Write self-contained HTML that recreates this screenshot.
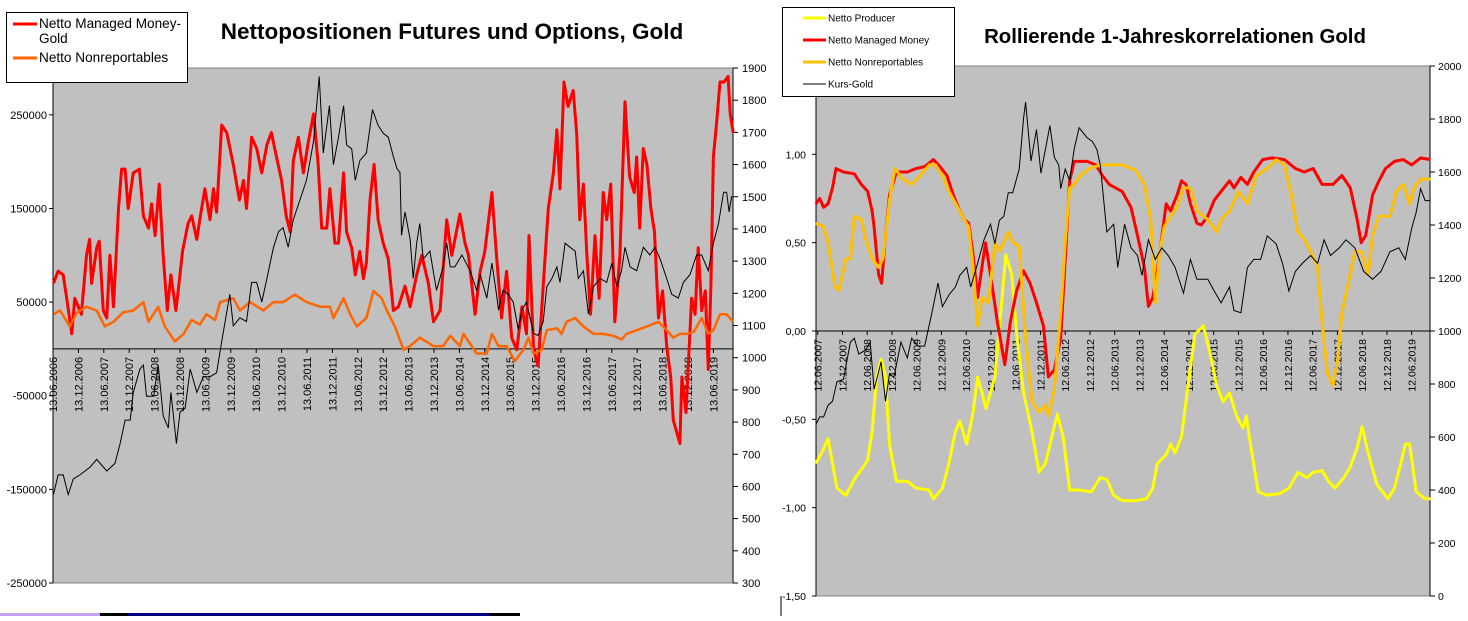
<!DOCTYPE html>
<html><head><meta charset="utf-8"><style>
body{margin:0;background:#fff;width:1468px;height:616px;overflow:hidden;font-family:"Liberation Sans",Arial,sans-serif}
svg text{font-family:"Liberation Sans",Arial,sans-serif}
</style></head><body>
<svg id="svg" width="1468" height="616" viewBox="0 0 1468 616" xmlns="http://www.w3.org/2000/svg">
<g id="left">
<rect x="53" y="68" width="680" height="515" fill="#c0c0c0" stroke="#808080" stroke-width="1"/>
<text x="452" y="39" font-size="22.5" font-weight="bold" text-anchor="middle">Nettopositionen Futures und Options, Gold</text>
</g>
<g id="right">
<rect x="816" y="66" width="614" height="530" fill="#c0c0c0" stroke="#808080" stroke-width="1"/>
<text x="1175" y="43" font-size="20.4" font-weight="bold" text-anchor="middle">Rollierende 1-Jahreskorrelationen Gold</text>
</g>
<g>
<rect x="0" y="613" width="100" height="3" fill="#c8a0f0"/>
<rect x="100" y="613" width="28" height="3" fill="#000"/>
<rect x="128" y="613" width="362" height="3" fill="#000080"/>
<rect x="490" y="613" width="30" height="3" fill="#000"/>
<line x1="781" y1="596" x2="781" y2="616" stroke="#000"/>
</g>
</svg>
<script>
// ---------- LEFT CHART DATA ----------
const leftTickLabelsL = ["250000","150000","50000","-50000","-150000","-250000"];
const leftTickValuesL = [250000,150000,50000,-50000,-150000,-250000];
const leftTickValuesR = [1900,1800,1700,1600,1500,1400,1300,1200,1100,1000,900,800,700,600,500,400,300];
const leftDateLabels = ["13.06.2006","13.12.2006","13.06.2007","13.12.2007","13.06.2008","13.12.2008","13.06.2009","13.12.2009","13.06.2010","13.12.2010","13.06.2011","13.12.2011","13.06.2012","13.12.2012","13.06.2013","13.12.2013","13.06.2014","13.12.2014","13.06.2015","13.12.2015","13.06.2016","13.12.2016","13.06.2017","13.12.2017","13.06.2018","13.12.2018","13.06.2019"];
const leftManagedMoney = [[2006.46,70],[2006.55,83],[2006.65,79],[2006.72,54],[2006.82,16],[2006.88,54],[2007.01,37],[2007.11,100],[2007.17,117],[2007.21,70],[2007.31,108],[2007.36,115],[2007.44,41],[2007.51,33],[2007.57,100],[2007.64,45],[2007.74,150],[2007.80,192],[2007.87,192],[2007.93,150],[2008.03,188],[2008.15,192],[2008.23,142],[2008.33,129],[2008.39,155],[2008.46,121],[2008.54,176],[2008.62,100],[2008.70,41],[2008.77,79],[2008.87,41],[2008.95,79],[2009.00,104],[2009.11,134],[2009.18,142],[2009.28,117],[2009.34,138],[2009.44,171],[2009.54,138],[2009.61,171],[2009.67,146],[2009.77,239],[2009.87,231],[2010.00,197],[2010.12,159],[2010.20,180],[2010.26,150],[2010.36,226],[2010.46,214],[2010.56,188],[2010.66,218],[2010.75,231],[2010.85,205],[2010.95,180],[2011.04,142],[2011.12,125],[2011.18,201],[2011.28,226],[2011.38,188],[2011.48,222],[2011.58,251],[2011.67,197],[2011.74,129],[2011.84,129],[2011.90,171],[2012.00,113],[2012.07,113],[2012.17,188],[2012.23,125],[2012.33,108],[2012.40,79],[2012.49,104],[2012.56,75],[2012.62,92],[2012.69,159],[2012.77,197],[2012.85,138],[2012.95,113],[2013.05,96],[2013.15,41],[2013.25,45],[2013.38,67],[2013.48,45],[2013.61,79],[2013.71,100],[2013.84,70],[2013.94,29],[2014.07,41],[2014.20,138],[2014.30,100],[2014.46,144],[2014.56,113],[2014.63,100],[2014.76,37],[2014.86,83],[2014.95,104],[2015.09,167],[2015.18,100],[2015.28,33],[2015.38,83],[2015.48,12],[2015.58,-1],[2015.68,45],[2015.77,16],[2015.82,121],[2015.91,-1],[2016.00,-18],[2016.10,67],[2016.20,150],[2016.30,188],[2016.37,234],[2016.43,171],[2016.51,285],[2016.59,259],[2016.69,276],[2016.76,230],[2016.82,138],[2016.89,176],[2016.96,100],[2017.03,37],[2017.12,121],[2017.20,54],[2017.28,167],[2017.35,138],[2017.43,176],[2017.51,29],[2017.61,100],[2017.71,264],[2017.80,184],[2017.89,167],[2017.94,205],[2018.00,129],[2018.07,214],[2018.14,197],[2018.22,150],[2018.29,125],[2018.37,33],[2018.45,62],[2018.53,3],[2018.61,-30],[2018.66,-76],[2018.79,-101],[2018.83,-30],[2018.91,-68],[2019.02,54],[2019.09,37],[2019.15,108],[2019.22,41],[2019.29,62],[2019.35,-22],[2019.40,67],[2019.45,205],[2019.51,239],[2019.58,285],[2019.66,285],[2019.74,291],[2019.78,251],[2019.84,231]];
const leftNonreportables = [[2006.46,37],[2006.59,41],[2006.78,24],[2006.92,39],[2007.11,45],[2007.31,41],[2007.47,24],[2007.64,29],[2007.83,39],[2008.03,41],[2008.23,50],[2008.33,29],[2008.52,45],[2008.65,24],[2008.85,8],[2009.02,16],[2009.18,31],[2009.34,26],[2009.47,37],[2009.64,31],[2009.74,50],[2010.00,54],[2010.13,41],[2010.33,50],[2010.59,41],[2010.79,50],[2010.98,50],[2011.21,58],[2011.44,50],[2011.71,45],[2011.90,45],[2011.97,33],[2012.17,54],[2012.30,37],[2012.43,24],[2012.62,33],[2012.76,62],[2012.92,54],[2013.02,41],[2013.18,24],[2013.35,-1],[2013.48,3],[2013.67,12],[2013.94,3],[2014.13,3],[2014.27,14],[2014.46,3],[2014.53,16],[2014.79,-5],[2014.99,-5],[2015.09,16],[2015.22,3],[2015.38,3],[2015.54,-13],[2015.71,-1],[2015.81,12],[2015.91,-5],[2016.07,-1],[2016.17,20],[2016.37,22],[2016.46,16],[2016.56,29],[2016.73,33],[2016.89,24],[2017.09,16],[2017.28,16],[2017.48,14],[2017.64,10],[2017.74,16],[2017.94,20],[2018.14,24],[2018.37,29],[2018.53,20],[2018.66,12],[2018.79,16],[2018.92,16],[2019.06,18],[2019.22,33],[2019.35,16],[2019.45,20],[2019.58,37],[2019.71,37],[2019.84,29]];
const leftGoldPrice = [[2006.46,575],[2006.55,636],[2006.65,636],[2006.75,575],[2006.85,623],[2006.98,636],[2007.18,660],[2007.31,684],[2007.51,648],[2007.67,672],[2007.77,733],[2007.87,806],[2007.97,806],[2008.03,892],[2008.16,965],[2008.23,977],[2008.29,880],[2008.43,880],[2008.52,977],[2008.62,819],[2008.72,782],[2008.77,892],[2008.88,733],[2008.95,831],[2009.05,843],[2009.15,965],[2009.28,892],[2009.41,941],[2009.54,941],[2009.67,953],[2009.77,1050],[2009.93,1197],[2010.00,1099],[2010.13,1124],[2010.26,1112],[2010.36,1234],[2010.46,1234],[2010.56,1173],[2010.66,1246],[2010.79,1343],[2010.89,1392],[2010.98,1404],[2011.08,1343],[2011.18,1429],[2011.31,1490],[2011.44,1551],[2011.58,1673],[2011.69,1874],[2011.77,1636],[2011.89,1783],[2011.97,1600],[2012.07,1685],[2012.17,1783],[2012.23,1661],[2012.33,1649],[2012.40,1551],[2012.49,1612],[2012.62,1636],[2012.74,1771],[2012.85,1722],[2012.95,1697],[2013.05,1685],[2013.15,1624],[2013.22,1588],[2013.28,1575],[2013.31,1380],[2013.38,1453],[2013.48,1368],[2013.54,1246],[2013.61,1356],[2013.67,1417],[2013.74,1307],[2013.87,1331],[2014.00,1209],[2014.13,1282],[2014.20,1356],[2014.27,1282],[2014.36,1282],[2014.50,1319],[2014.66,1270],[2014.79,1209],[2014.86,1258],[2014.99,1185],[2015.09,1294],[2015.18,1197],[2015.22,1148],[2015.31,1209],[2015.41,1197],[2015.51,1173],[2015.61,1087],[2015.68,1148],[2015.77,1173],[2015.91,1075],[2016.00,1069],[2016.10,1112],[2016.17,1221],[2016.27,1246],[2016.37,1282],[2016.43,1234],[2016.53,1356],[2016.63,1343],[2016.73,1331],[2016.79,1246],[2016.89,1270],[2016.99,1136],[2017.09,1221],[2017.22,1246],[2017.35,1234],[2017.45,1294],[2017.55,1221],[2017.64,1270],[2017.71,1343],[2017.81,1282],[2017.94,1270],[2018.07,1343],[2018.20,1319],[2018.30,1343],[2018.40,1307],[2018.53,1246],[2018.63,1197],[2018.76,1185],[2018.86,1234],[2018.99,1258],[2019.12,1319],[2019.22,1319],[2019.35,1270],[2019.45,1356],[2019.55,1417],[2019.65,1514],[2019.71,1514],[2019.76,1453],[2019.81,1502]];

// ---------- RIGHT CHART DATA ----------
const rightTickLabelsL = ["1,00","0,50","0,00","-0,50","-1,00","-1,50"];
const rightTickValuesL = [1,0.5,0,-0.5,-1,-1.5];
const rightTickValuesR = [2000,1800,1600,1400,1200,1000,800,600,400,200,0];
const rightDateLabels = ["12.06.2007","12.12.2007","12.06.2008","12.12.2008","12.06.2009","12.12.2009","12.06.2010","12.12.2010","12.06.2011","12.12.2011","12.06.2012","12.12.2012","12.06.2013","12.12.2013","12.06.2014","12.12.2014","12.06.2015","12.12.2015","12.06.2016","12.12.2016","12.06.2017","12.12.2017","12.06.2018","12.12.2018","12.06.2019"];
const corrProducer = [[2007.41,-.75],[2007.53,-.69],[2007.66,-.61],[2007.84,-.89],[2008.02,-.93],[2008.19,-.84],[2008.37,-.77],[2008.46,-.73],[2008.55,-.57],[2008.64,-.26],[2008.73,-.16],[2008.82,-.26],[2008.90,-.64],[2009.04,-.85],[2009.26,-.85],[2009.44,-.89],[2009.70,-.90],[2009.79,-.95],[2009.97,-.89],[2010.10,-.75],[2010.23,-.57],[2010.32,-.51],[2010.46,-.64],[2010.59,-.46],[2010.68,-.26],[2010.77,-.35],[2010.85,-.44],[2011.03,-.26],[2011.16,.14],[2011.25,.43],[2011.37,.32],[2011.47,-.02],[2011.61,-.35],[2011.78,-.57],[2011.92,-.80],[2012.05,-.75],[2012.18,-.60],[2012.29,-.47],[2012.41,-.60],[2012.54,-.90],[2012.72,-.90],[2012.98,-.91],[2013.16,-.83],[2013.29,-.84],[2013.43,-.93],[2013.60,-.96],[2013.87,-.96],[2014.09,-.95],[2014.22,-.89],[2014.31,-.75],[2014.49,-.70],[2014.58,-.64],[2014.67,-.69],[2014.80,-.60],[2014.93,-.31],[2015.07,-.02],[2015.24,.03],[2015.38,-.13],[2015.51,-.31],[2015.64,-.40],[2015.77,-.35],[2015.91,-.48],[2016.04,-.55],[2016.11,-.48],[2016.17,-.60],[2016.35,-.91],[2016.53,-.93],[2016.79,-.92],[2016.97,-.89],[2017.15,-.80],[2017.33,-.83],[2017.46,-.80],[2017.64,-.79],[2017.77,-.85],[2017.90,-.89],[2018.08,-.83],[2018.21,-.77],[2018.35,-.66],[2018.45,-.54],[2018.57,-.69],[2018.75,-.87],[2018.97,-.95],[2019.10,-.89],[2019.23,-.75],[2019.32,-.64],[2019.41,-.64],[2019.54,-.91],[2019.72,-.95],[2019.83,-.95]];
const corrManagedMoney = [[2007.41,.72],[2007.49,.75],[2007.57,.70],[2007.66,.72],[2007.75,.81],[2007.82,.92],[2007.97,.90],[2008.19,.89],[2008.33,.83],[2008.46,.79],[2008.55,.68],[2008.59,.59],[2008.68,.32],[2008.74,.27],[2008.82,.54],[2008.90,.77],[2009.04,.90],[2009.26,.90],[2009.44,.92],[2009.61,.93],[2009.79,.97],[2009.92,.93],[2010.06,.88],[2010.19,.77],[2010.32,.68],[2010.41,.63],[2010.50,.61],[2010.59,.43],[2010.68,.19],[2010.84,.50],[2010.94,.32],[2011.08,.05],[2011.23,-.19],[2011.34,.05],[2011.47,.23],[2011.61,.34],[2011.74,.27],[2011.87,.16],[2012.01,.03],[2012.11,-.26],[2012.23,-.22],[2012.36,-.04],[2012.54,.85],[2012.63,.96],[2012.89,.96],[2013.07,.94],[2013.20,.88],[2013.34,.83],[2013.60,.79],[2013.78,.70],[2013.91,.54],[2014.05,.36],[2014.13,.14],[2014.22,.19],[2014.31,.34],[2014.49,.72],[2014.58,.68],[2014.71,.77],[2014.80,.85],[2014.89,.83],[2014.98,.72],[2015.11,.61],[2015.20,.60],[2015.33,.65],[2015.46,.74],[2015.60,.79],[2015.77,.85],[2015.86,.81],[2016.00,.87],[2016.13,.83],[2016.26,.90],[2016.44,.97],[2016.62,.98],[2016.88,.97],[2017.10,.92],[2017.28,.90],[2017.46,.92],[2017.64,.83],[2017.86,.83],[2018.04,.88],[2018.21,.81],[2018.35,.63],[2018.43,.50],[2018.52,.54],[2018.66,.77],[2018.79,.85],[2018.92,.92],[2019.10,.96],[2019.28,.97],[2019.45,.94],[2019.63,.98],[2019.83,.97]];
const corrNonreportables = [[2007.41,.61],[2007.57,.59],[2007.66,.50],[2007.80,.25],[2007.88,.23],[2008.02,.41],[2008.11,.41],[2008.19,.65],[2008.33,.63],[2008.42,.52],[2008.55,.41],[2008.68,.36],[2008.77,.41],[2008.90,.74],[2009.01,.92],[2009.17,.86],[2009.35,.83],[2009.52,.88],[2009.70,.94],[2009.83,.94],[2009.97,.88],[2010.10,.79],[2010.28,.70],[2010.41,.63],[2010.50,.59],[2010.59,.36],[2010.68,.03],[2010.77,.19],[2010.90,.16],[2011.03,.50],[2011.12,.45],[2011.30,.56],[2011.39,.50],[2011.52,.48],[2011.65,-.04],[2011.78,-.40],[2011.92,-.46],[2012.05,-.42],[2012.11,-.48],[2012.23,-.33],[2012.36,.10],[2012.45,.50],[2012.54,.81],[2012.63,.83],[2012.76,.88],[2012.94,.92],[2013.16,.94],[2013.34,.94],[2013.60,.94],[2013.87,.91],[2014.05,.83],[2014.18,.63],[2014.27,.16],[2014.36,.45],[2014.45,.59],[2014.58,.65],[2014.71,.70],[2014.84,.81],[2014.98,.81],[2015.11,.68],[2015.33,.63],[2015.51,.56],[2015.60,.63],[2015.77,.68],[2015.95,.79],[2016.13,.72],[2016.31,.88],[2016.53,.92],[2016.71,.97],[2016.88,.94],[2017.02,.77],[2017.15,.56],[2017.28,.52],[2017.41,.45],[2017.55,.36],[2017.64,.05],[2017.75,-.24],[2017.86,-.31],[2017.95,-.17],[2018.04,.10],[2018.17,.27],[2018.30,.45],[2018.43,.45],[2018.57,.32],[2018.66,.54],[2018.79,.65],[2019.01,.65],[2019.14,.79],[2019.28,.83],[2019.41,.72],[2019.50,.81],[2019.63,.86],[2019.83,.86]];
const rightGoldPrice = [[2007.41,646],[2007.49,676],[2007.57,676],[2007.66,720],[2007.75,735],[2007.84,809],[2007.97,817],[2008.11,958],[2008.19,973],[2008.28,913],[2008.42,928],[2008.51,958],[2008.59,780],[2008.73,884],[2008.82,735],[2008.90,839],[2008.99,824],[2009.13,958],[2009.26,898],[2009.35,973],[2009.48,943],[2009.61,943],[2009.75,1062],[2009.88,1181],[2009.97,1092],[2010.10,1136],[2010.23,1166],[2010.32,1210],[2010.46,1240],[2010.54,1166],[2010.68,1255],[2010.81,1344],[2010.94,1403],[2011.03,1329],[2011.12,1418],[2011.21,1433],[2011.30,1522],[2011.39,1522],[2011.52,1611],[2011.61,1804],[2011.65,1864],[2011.76,1641],[2011.87,1760],[2011.96,1596],[2012.14,1775],[2012.23,1656],[2012.32,1626],[2012.36,1537],[2012.45,1611],[2012.54,1567],[2012.63,1685],[2012.73,1767],[2012.89,1730],[2013.00,1715],[2013.09,1685],[2013.16,1626],[2013.29,1374],[2013.43,1403],[2013.51,1240],[2013.65,1403],[2013.78,1314],[2013.91,1285],[2014.00,1210],[2014.13,1344],[2014.27,1270],[2014.40,1314],[2014.53,1285],[2014.67,1240],[2014.84,1143],[2014.98,1270],[2015.11,1195],[2015.33,1195],[2015.46,1151],[2015.60,1106],[2015.77,1166],[2015.86,1077],[2016.00,1069],[2016.13,1240],[2016.26,1270],[2016.40,1270],[2016.53,1359],[2016.71,1329],[2016.84,1255],[2016.97,1151],[2017.10,1225],[2017.24,1255],[2017.41,1285],[2017.55,1255],[2017.68,1344],[2017.81,1285],[2017.99,1314],[2018.12,1344],[2018.30,1314],[2018.48,1225],[2018.66,1195],[2018.83,1225],[2019.01,1299],[2019.19,1314],[2019.32,1270],[2019.45,1388],[2019.54,1448],[2019.63,1537],[2019.72,1492],[2019.83,1492]];

const NS="http://www.w3.org/2000/svg";
const svg=document.getElementById('svg');
function mk(tag,attrs,parent,txt){const e=document.createElementNS(NS,tag);for(const k in attrs)e.setAttribute(k,attrs[k]);if(txt!==undefined)e.textContent=txt;(parent||svg).appendChild(e);return e;}

// ---- left scales ----
const Lx=yr=>53+(yr-2006.45)*50.8;
const LyL=v=>68+(300000-v)/550000*515;
const LyR=v=>68+(1900-v)/1600*515;
const gl=document.getElementById('left');
let ax=mk('line',{x1:53,y1:68,x2:53,y2:583,stroke:'#000'},gl);


ax=mk('line',{x1:733,y1:68,x2:733,y2:583,stroke:'#000'},gl);


ax=mk('line',{x1:53,y1:LyL(0),x2:733,y2:LyL(0),stroke:'#000'},gl);


leftTickValuesL.forEach((v,i)=>{const y=LyL(v);
 mk('line',{x1:49,y1:y,x2:53,y2:y,stroke:'#000'},gl);
 const t=mk('text',{x:47,y:y+4,'font-size':11,'text-anchor':'end'},gl,leftTickLabelsL[i]);
 
 });
leftTickValuesR.forEach(v=>{const y=LyR(v);
 mk('line',{x1:733,y1:y,x2:738,y2:y,stroke:'#000'},gl);
 const t=mk('text',{x:742,y:y+4,'font-size':11},gl,String(v));
 
 });
leftDateLabels.forEach((s,i)=>{const x=Lx(2006.45+i*0.5);const y0=LyL(0);
 mk('line',{x1:x,y1:y0,x2:x,y2:y0+4,stroke:'#000'},gl);
 const t=mk('text',{x:0,y:0,'font-size':11,'text-anchor':'end',transform:`translate(${x+4},${y0+8}) rotate(-90)`},gl,s);
 
 });
function path(data,fx,fy,scale){return data.map((d,i)=>(i?'L':'M')+fx(d[0]).toFixed(1)+' '+fy(d[1]*scale).toFixed(1)).join(' ');}
let p=mk('path',{d:path(leftManagedMoney,Lx,LyL,1000),fill:'none',stroke:'#ff0000','stroke-width':3,'stroke-linejoin':'round'},gl);


p=mk('path',{d:path(leftNonreportables,Lx,LyL,1000),fill:'none',stroke:'#ff6600','stroke-width':2.5,'stroke-linejoin':'round'},gl);


p=mk('path',{d:path(leftGoldPrice,Lx,LyR,1),fill:'none',stroke:'#000','stroke-width':1},gl);


const lg=mk('g',{},gl);


mk('rect',{x:6.5,y:12.5,width:181,height:70,fill:'#fff',stroke:'#000'},lg);
mk('line',{x1:13,y1:24,x2:37,y2:24,stroke:'#ff0000','stroke-width':3},lg);
mk('text',{x:39,y:28,'font-size':13.6},lg,'Netto Managed Money-');
mk('text',{x:39,y:43,'font-size':13.6},lg,'Gold');
mk('line',{x1:13,y1:58,x2:37,y2:58,stroke:'#ff6600','stroke-width':3},lg);
mk('text',{x:39,y:62,'font-size':13.6},lg,'Netto Nonreportables');

// ---- right scales ----
const Rx=yr=>817.7+(yr-2007.45)*49.5;
const RyL=v=>66+(1.5-v)/3*530;
const RyR=v=>66+(2000-v)/2000*530;
const gr=document.getElementById('right');
ax=mk('line',{x1:816,y1:66,x2:816,y2:596,stroke:'#000'},gr);


ax=mk('line',{x1:1430,y1:66,x2:1430,y2:596,stroke:'#000'},gr);


ax=mk('line',{x1:816,y1:RyL(0),x2:1430,y2:RyL(0),stroke:'#000'},gr);


rightTickValuesL.forEach((v,i)=>{const y=RyL(v);
 mk('line',{x1:812,y1:y,x2:816,y2:y,stroke:'#000'},gr);
 const t=mk('text',{x:806,y:y+4,'font-size':10.5,'text-anchor':'end'},gr,rightTickLabelsL[i]);
 
 });
rightTickValuesR.forEach(v=>{const y=RyR(v);
 mk('line',{x1:1430,y1:y,x2:1435,y2:y,stroke:'#000'},gr);
 const t=mk('text',{x:1438,y:y+4,'font-size':10.5},gr,String(v));
 
 });
rightDateLabels.forEach((s,i)=>{const x=Rx(2007.45+i*0.5);const y0=RyL(0);
 mk('line',{x1:x,y1:y0,x2:x,y2:y0+4,stroke:'#000'},gr);
 const t=mk('text',{x:0,y:0,'font-size':10.5,'text-anchor':'end',transform:`translate(${x+4},${y0+8}) rotate(-90)`},gr,s);
 
 });
p=mk('path',{d:path(corrProducer,Rx,RyL,1),fill:'none',stroke:'#ffff00','stroke-width':3,'stroke-linejoin':'round'},gr);


p=mk('path',{d:path(corrManagedMoney,Rx,RyL,1),fill:'none',stroke:'#ff0000','stroke-width':3,'stroke-linejoin':'round'},gr);


p=mk('path',{d:path(corrNonreportables,Rx,RyL,1),fill:'none',stroke:'#ffc000','stroke-width':3,'stroke-linejoin':'round'},gr);


p=mk('path',{d:path(rightGoldPrice,Rx,RyR,1),fill:'none',stroke:'#000','stroke-width':1},gr);


const rg=mk('g',{},gr);


mk('rect',{x:782.5,y:7.5,width:172,height:89,fill:'#fff',stroke:'#000'},rg);
const lgItems=[['Netto Producer','#ffff00',3,18],['Netto Managed Money','#ff0000',3,40],['Netto Nonreportables','#ffc000',3,62],['Kurs-Gold','#000',1,84]];
lgItems.forEach(it=>{mk('line',{x1:803,y1:it[3],x2:826,y2:it[3],stroke:it[1],'stroke-width':it[2]},rg);
 mk('text',{x:828,y:it[3]+3.5,'font-size':10},rg,it[0]);});
</script>
</body></html>
